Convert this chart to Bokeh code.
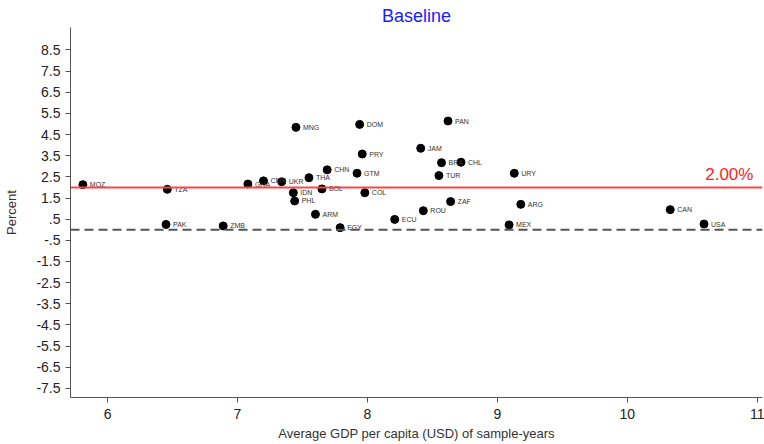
from bokeh.plotting import figure
from bokeh.models import ColumnDataSource, FixedTicker, Span, Label, Range1d
from bokeh.embed import file_html
from bokeh.resources import INLINE

countries = ["MOZ", "TZA", "PAK", "ZMB", "GHA", "CMR", "UKR", "THA", "CHN", "MNG",
             "DOM", "PRY", "GTM", "IDN", "PHL", "BOL", "COL", "ARM", "EGY", "ECU",
             "ROU", "JAM", "BRA", "TUR", "PAN", "CHL", "URY", "ZAF", "ARG", "MEX",
             "CAN", "USA"]
gdp = [5.81, 6.46, 6.45, 6.89, 7.08, 7.20, 7.34, 7.55, 7.69, 7.45,
       7.94, 7.96, 7.92, 7.43, 7.44, 7.65, 7.98, 7.60, 7.79, 8.21,
       8.43, 8.41, 8.57, 8.55, 8.62, 8.72, 9.13, 8.64, 9.18, 9.09,
       10.33, 10.59]
percent = [2.13, 1.91, 0.25, 0.18, 2.16, 2.31, 2.27, 2.46, 2.83, 4.84,
           4.98, 3.58, 2.67, 1.75, 1.36, 1.93, 1.75, 0.73, 0.10, 0.49,
           0.90, 3.85, 3.17, 2.56, 5.14, 3.19, 2.67, 1.33, 1.20, 0.23,
           0.95, 0.27]
baseline = 2.0
x_ticks = [6, 7, 8, 9, 10, 11]
y_ticks = [-7.5, -6.5, -5.5, -4.5, -3.5, -2.5, -1.5, -0.5, 0.5, 1.5, 2.5, 3.5, 4.5, 5.5, 6.5, 7.5, 8.5]
y_tick_labels = ["-7.5", "-6.5", "-5.5", "-4.5", "-3.5", "-2.5", "-1.5", "-.5", ".5", "1.5",
                 "2.5", "3.5", "4.5", "5.5", "6.5", "7.5", "8.5"]

FONT = "Liberation Sans"

p = figure(width=764, height=444, output_backend="svg", toolbar_location=None,
           x_range=Range1d(5.715, 11.04), y_range=Range1d(-7.93, 9.56),
           min_border_left=70, min_border_right=2, min_border_top=27, min_border_bottom=47)
p.background_fill_color = "white"
p.border_fill_color = "white"
p.outline_line_color = None
p.grid.visible = False

p.title.text = "Baseline"
p.title.text_color = "#1a1aff"
p.title.text_font = FONT
p.title.text_font_size = "18px"
p.title.text_font_style = "normal"
p.title.align = "center"
p.title.standoff = 4

p.xaxis.ticker = FixedTicker(ticks=x_ticks)
p.yaxis.ticker = FixedTicker(ticks=y_ticks)
p.yaxis.major_label_overrides = {t: l for t, l in zip(y_ticks, y_tick_labels)}
p.xaxis.axis_label = "Average GDP per capita (USD) of sample-years"
p.yaxis.axis_label = "Percent"
for ax in (p.xaxis[0], p.yaxis[0]):
    ax.axis_line_color = "#555555"
    ax.major_tick_line_color = "#555555"
    ax.minor_tick_line_color = None
    ax.major_tick_in = 0
    ax.major_tick_out = 5
    ax.major_label_text_font = FONT
    ax.major_label_text_font_size = "14px"
    ax.major_label_text_color = "#222222"
    ax.axis_label_text_font = FONT
    ax.axis_label_text_font_size = "13px"
    ax.axis_label_text_font_style = "normal"
    ax.axis_label_text_color = "#333333"
p.yaxis.major_label_orientation = "horizontal"
p.yaxis.axis_label_standoff = 14
p.xaxis.axis_label_standoff = 4
p.xaxis.major_label_standoff = 6

p.add_layout(Span(location=0, dimension="width", line_color="#555555", line_width=2,
                  line_dash="9 5"))
p.add_layout(Span(location=baseline, dimension="width", line_color="#ff4444", line_width=2))

src = ColumnDataSource(dict(x=gdp, y=percent, name=countries))
p.scatter("x", "y", source=src, size=8, color="black")
p.text("x", "y", text="name", source=src, x_offset=7, text_font_size="7px",
       text_baseline="middle", text_color="#333333", text_font={"value": FONT})

p.add_layout(Label(x=10.97, y=baseline + 0.15, text="%.2f%%" % baseline, text_align="right",
                   text_baseline="bottom", text_color="#ff2222", text_font=FONT,
                   text_font_size="17px"))

open("out.html", "w").write(file_html(p, INLINE))
